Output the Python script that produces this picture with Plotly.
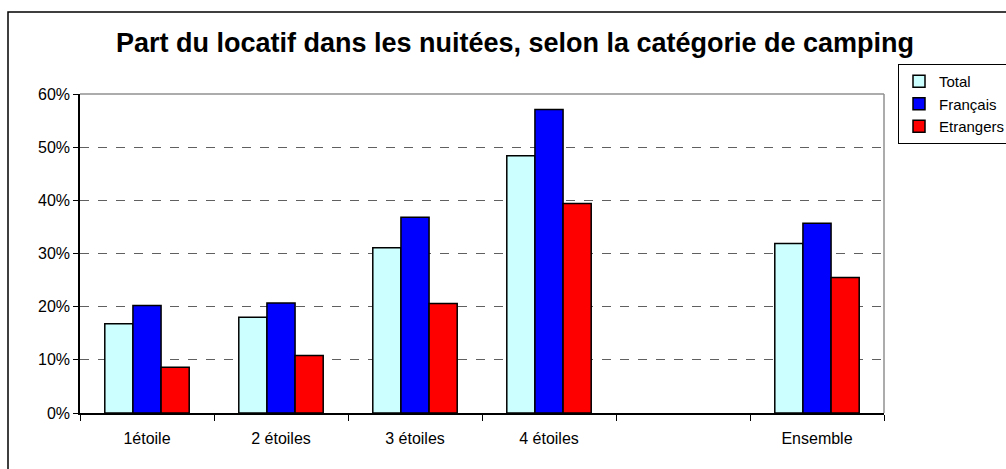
import plotly.graph_objects as go

categories = ["1étoile", "2 étoiles", "3 étoiles", "4 étoiles", " ", "Ensemble"]
total = [0.168, 0.180, 0.311, 0.484, None, 0.319]
francais = [0.202, 0.207, 0.368, 0.571, None, 0.357]
etrangers = [0.086, 0.108, 0.206, 0.394, None, 0.255]
series_names = ["Total", "Français", "Etrangers"]
colors = ["#CCFFFF", "#0000FF", "#FF0000"]

W, H = 1006, 469
L, R, T, B = 80, 122, 94, 56
pw, ph = W - L - R, H - T - B

fig = go.Figure()
for name, vals, col in zip(series_names, [total, francais, etrangers], colors):
    fig.add_trace(go.Bar(
        x=categories, y=vals, name=name,
        marker=dict(color=col, line=dict(color="black", width=1.5)),
    ))

def px_x(x):
    return (x - L) / pw

def px_y(y):
    return 1 - (y - T) / ph

shapes = [
    dict(type="rect", xref="paper", yref="paper",
         x0=px_x(8), x1=px_x(1012), y0=px_y(475), y1=px_y(12),
         line=dict(color="black", width=1.5), layer="below"),
    dict(type="line", xref="paper", yref="paper", x0=0, x1=1, y0=1, y1=1,
         line=dict(color="#909090", width=1.5), layer="above"),
    dict(type="line", xref="paper", yref="paper", x0=1, x1=1, y0=0, y1=1,
         line=dict(color="#909090", width=1.5), layer="above"),
]

fig.update_layout(
    width=W, height=H,
    margin=dict(l=L, r=R, t=T, b=B, pad=0, autoexpand=False),
    paper_bgcolor="white", plot_bgcolor="white",
    font=dict(family="Liberation Sans, Arial, sans-serif", size=16, color="black"),
    title=dict(text="<b>Part du locatif dans les nuitées, selon la catégorie de camping</b>",
               x=515 / W, xref="container", xanchor="center",
               y=1 - 43 / H, yref="container", yanchor="middle",
               font=dict(size=27, color="black")),
    barmode="group", bargap=0.37, bargroupgap=0,
    showlegend=True,
    legend=dict(x=898 / W, y=1 - 64 / H, xref="container", yref="container",
                xanchor="left", yanchor="top",
                bordercolor="black", borderwidth=1, bgcolor="white",
                font=dict(size=15), tracegroupgap=0, itemwidth=30),
    shapes=shapes,
)
fig.update_xaxes(
    type="category", showline=True, linecolor="black", linewidth=1.5,
    ticks="outside", tickson="boundaries", ticklen=6, tickcolor="black",
    tickwidth=1, showgrid=False, tickfont=dict(size=16), automargin=False,
    ticklabelstandoff=10,
)
fig.update_yaxes(
    range=[0, 0.6], dtick=0.1, tickformat=".0%",
    showline=True, linecolor="black", linewidth=1.5,
    ticks="outside", ticklen=5, tickcolor="black",
    showgrid=True, gridcolor="#606060", griddash="dash", gridwidth=1,
    zeroline=False, tickfont=dict(size=16), automargin=False,
)

fig.write_html("out.html", config={"displayModeBar": False},
               post_script="document.body.style.margin='0';")
